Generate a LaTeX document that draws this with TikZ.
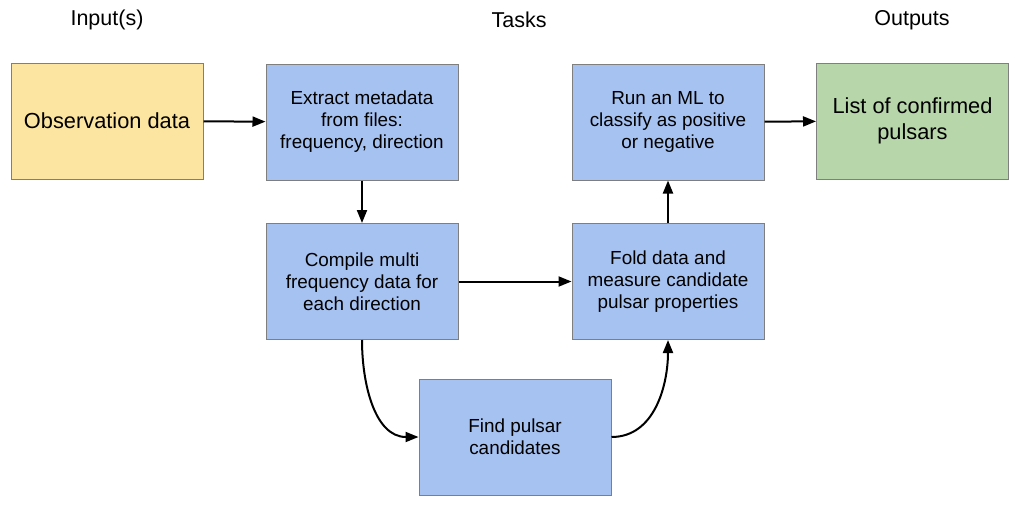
\documentclass[tikz,border=0pt]{standalone}
\usepackage{fontspec}
\setmainfont{Liberation Sans}
\usetikzlibrary{arrows.meta}
\definecolor{inyellow}{HTML}{FCE5A0}
\definecolor{taskblue}{HTML}{A6C2F1}
\definecolor{outgreen}{HTML}{B7D6AA}
\definecolor{boxline}{HTML}{7F7F7F}
\begin{document}
\begin{tikzpicture}[x=1pt,y=-1pt,
  box/.style={draw=boxline,line width=1pt,minimum width=192pt,minimum height=116pt,inner sep=0pt,align=center,font=\fontsize{18.9}{22}\selectfont},
  bigbox/.style={box,font=\fontsize{21.8}{26}\selectfont},
  head/.style={font=\fontsize{21.5}{25}\selectfont},
  conn/.style={line width=2pt,-{Triangle[length=13pt,width=10pt]}}]
\useasboundingbox (0,0) rectangle (1020,509);
\node[head] (h1) at (107,20) {Input(s)};
\node[head] (h2) at (519,20) {Tasks};
\node[head] (h3) at (912,20) {Outputs};
\node[bigbox,fill=inyellow] (obs) at (107,121) {Observation data};
\node[box,fill=taskblue] (ext) at (362,122) {Extract metadata\\from files:\\frequency, direction};
\node[box,fill=taskblue] (run) at (668,122) {Run an ML to\\classify as positive\\or negative};
\node[bigbox,fill=outgreen] (lst) at (912.5,121) {List of confirmed\\pulsars};
\node[box,fill=taskblue] (cmp) at (362,281.5) {Compile multi\\frequency data for\\each direction};
\node[box,fill=taskblue] (fld) at (668,281.5) {Fold data and\\measure candidate\\pulsar properties};
\node[box,fill=taskblue] (fnd) at (515,437) {Find pulsar\\candidates};
\draw[conn] (obs) -- (ext);
\draw[conn] (ext) -- (cmp);
\draw[conn] (cmp) -- (fld);
\draw[conn] (fld) -- (run);
\draw[conn] (run) -- (lst);
\draw[conn] (cmp.south) to[out=-90,in=180] (fnd.west);
\draw[conn] (fnd.east) to[out=0,in=-90] (fld.south);
\end{tikzpicture}
\end{document}
